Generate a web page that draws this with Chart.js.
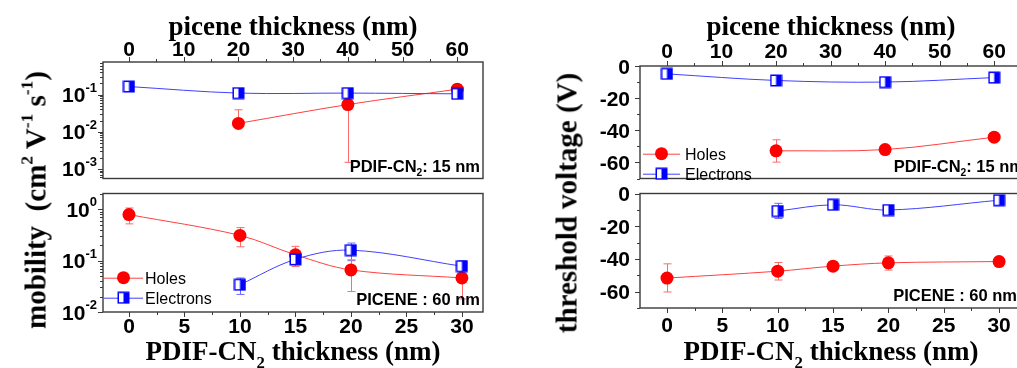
<!DOCTYPE html>
<html>
<head>
<meta charset="utf-8">
<script src="https://cdn.jsdelivr.net/npm/chart.js@4.4.1/dist/chart.umd.min.js"></script>
<style>
  html, body { margin: 0; padding: 0; overflow: hidden; background: #fff; width: 1017px; height: 368px; }
  canvas { position: absolute; }
  .ytitle {
    position: absolute;
    font: bold 29px "Liberation Serif", "Times New Roman", serif;
    color: #000;
    white-space: nowrap;
    transform: translate(-50%, -50%) rotate(-90deg);
  }
  .ytitle sup { font-size: 0.6em; vertical-align: 0.75em; line-height: 0; }
</style>
</head>
<body>

<canvas id="mobTop" width="500" height="186" style="left:0;top:0"></canvas>
<canvas id="mobBot" width="500" height="182" style="left:0;top:186px"></canvas>
<canvas id="vthTop" width="530" height="186" style="left:510px;top:0"></canvas>
<canvas id="vthBot" width="530" height="182" style="left:510px;top:186px"></canvas>

<div class="ytitle" style="left:36px;top:200px">mobility&nbsp; (cm<sup>2</sup> V<sup>-1</sup> s<sup>-1</sup>)</div>
<div class="ytitle" style="left:567px;top:203px">threshold voltage (V)</div>

<script>
// =========================================
// DATA
// =========================================

const piceneThickness = [0, 20, 40, 60];
const pdifThickness = [0, 10, 15, 20, 30];

// mobility (cm2/Vs), PDIF-CN2 15 nm, picene varied
const mobTopElectrons = [0.165, 0.11, 0.11, 0.105];
const mobTopHoles = [null, 0.0168, 0.054, 0.14];
const mobTopHolesLow = [null, 0.0168, 0.0015, 0.09];
const mobTopHolesHigh = [null, 0.039, 0.106, 0.18];

// mobility (cm2/Vs), picene 60 nm, PDIF-CN2 varied
const mobBotHoles = [0.79, 0.31, 0.13, 0.066, 0.046];
const mobBotHolesLow = [0.52, 0.186, 0.077, 0.025, 0.018];
const mobBotHolesHigh = [1.06, 0.44, 0.19, 0.104, 0.07];
const mobBotElectrons = [null, 0.034, 0.106, 0.16, 0.078];
const mobBotElectronsLow = [null, 0.022, 0.085, 0.1, 0.065];
const mobBotElectronsHigh = [null, 0.046, 0.125, 0.22, 0.1];

// threshold voltage (V), PDIF-CN2 15 nm, picene varied
const vthTopElectrons = [-4.9, -9, -10, -7.2];
const vthTopHoles = [null, -52.8, -52, -44.3];
const vthTopHolesLow = [null, -59.8, -54, -45.5];
const vthTopHolesHigh = [null, -45.9, -50, -43];

// threshold voltage (V), picene 60 nm, PDIF-CN2 varied
const vthBotElectrons = [null, -10.7, -6.9, -10.1, -4.1];
const vthBotElectronsLow = [null, -15.3, -8, -11.5, -5];
const vthBotElectronsHigh = [null, -6, -5.8, -8.7, -3.2];
const vthBotHoles = [-51.7, -47.5, -44.4, -42.4, -41.6];
const vthBotHolesLow = [-60.2, -52.9, -45.5, -46.8, -42.8];
const vthBotHolesHigh = [-43, -42.2, -43.3, -38.2, -40.4];

// tick labels
const piceneTicks = [0, 10, 20, 30, 40, 50, 60];
const pdifTicks = [0, 5, 10, 15, 20, 25, 30];
const vthTicks = [0, -20, -40, -60];
const mobTopDecades = [-3, -2, -1];
const mobBotDecades = [-2, -1, 0];


// =========================================
// HELPERS
// =========================================

const BOX = "#3a3a3a";
const SANS = '"Liberation Sans", Arial, sans-serif';
const SERIF = '"Liberation Serif", "Times New Roman", serif';

// half filled square used for electrons
const squareImg = document.createElement("canvas");
squareImg.width = 13;
squareImg.height = 13;
(function () {
  const g = squareImg.getContext("2d");
  g.fillStyle = "#fff";
  g.fillRect(1, 1, 11, 11);
  g.fillStyle = "#0000ff";
  g.fillRect(6.5, 1, 5.5, 11);
  g.strokeStyle = "#0000ff";
  g.lineWidth = 1.5;
  g.strokeRect(1.25, 1.25, 10.5, 10.5);
})();

function points(xs, ys, lo, hi) {
  return xs
    .map((x, i) => ({ x: x, y: ys[i], lo: lo ? lo[i] : null, hi: hi ? hi[i] : null }))
    .filter(p => p.y !== null);
}

function holes(xs, ys, lo, hi) {
  return {
    label: "Holes",
    data: points(xs, ys, lo, hi),
    borderColor: "#ff4040",
    borderWidth: 1,
    pointStyle: "circle",
    pointRadius: 6.5,
    pointBackgroundColor: "#ff0000",
    pointBorderColor: "#ff0000",
    pointBorderWidth: 0,
    tension: 0.35,
    errColor: "#ff6a6a"
  };
}

function electrons(xs, ys, lo, hi) {
  return {
    label: "Electrons",
    data: points(xs, ys, lo, hi),
    borderColor: "#4040ff",
    borderWidth: 1,
    pointStyle: squareImg,
    pointRadius: 6.5,
    tension: 0.35,
    errColor: "#6a6aff"
  };
}

function noPad(s) {
  s.paddingLeft = 0; s.paddingRight = 0; s.paddingTop = 0; s.paddingBottom = 0;
}

function xScale(pos, min, max, h) {
  return {
    type: "linear", position: pos, min: min, max: max,
    grid: { display: false, drawTicks: false },
    border: { display: false },
    ticks: { display: false },
    afterFit(s) { s.height = h; noPad(s); }
  };
}

function yScale(type, min, max, w) {
  return {
    type: type, position: "left", min: min, max: max,
    grid: { display: false, drawTicks: false },
    border: { display: false },
    ticks: { display: false },
    afterFit(s) { s.width = w; noPad(s); }
  };
}

function richText(ctx, parts, x, y, align, size, family, weight, supRaise) {
  const segs = parts.map(p => {
    const fs = p[1] ? size * 0.62 : size;
    ctx.font = weight + " " + fs + "px " + family;
    let dy = 0;
    if (p[1] === "sub") dy = size * 0.3;
    if (p[1] === "sup") dy = -size * (supRaise || 0.4);
    return { t: p[0], fs: fs, dy: dy, w: ctx.measureText(p[0]).width };
  });
  const total = segs.reduce((a, s) => a + s.w, 0);
  let cx = align === "right" ? x - total : align === "center" ? x - total / 2 : x;
  ctx.textAlign = "left";
  ctx.textBaseline = "alphabetic";
  segs.forEach(s => {
    ctx.font = weight + " " + s.fs + "px " + family;
    ctx.fillText(s.t, cx, y + s.dy);
    cx += s.w;
  });
}

function linearMinors(major, step, min, max) {
  const out = [];
  const start = Math.ceil(min / step) * step;
  for (let v = start; v <= max + 1e-9; v += step) {
    if (!major.some(m => Math.abs(m - v) < 1e-9)) out.push(v);
  }
  return out;
}

function logMinors(min, max) {
  const out = [];
  for (let n = Math.floor(Math.log10(min)); n <= Math.ceil(Math.log10(max)); n++) {
    for (let k = 2; k <= 9; k++) {
      const v = k * Math.pow(10, n);
      if (v >= min && v <= max) out.push(v);
    }
  }
  return out;
}

function panelPlugin(cfg) {
  return {
    id: "panel",

    beforeDatasetsDraw(chart) {
      const ctx = chart.ctx, xs = chart.scales.x, ys = chart.scales.y, a = chart.chartArea;
      ctx.save();
      ctx.beginPath();
      ctx.rect(a.left, a.top, a.right - a.left, a.bottom - a.top);
      ctx.clip();
      ctx.lineWidth = 1;
      chart.data.datasets.forEach(ds => {
        ctx.strokeStyle = ds.errColor;
        ds.data.forEach(p => {
          if (p.lo == null || p.hi == null) return;
          const px = Math.round(xs.getPixelForValue(p.x)) + 0.5;
          const y1 = ys.getPixelForValue(p.lo);
          const y2 = ys.getPixelForValue(p.hi);
          ctx.beginPath();
          ctx.moveTo(px, y1); ctx.lineTo(px, y2);
          ctx.moveTo(px - 4, y1); ctx.lineTo(px + 4, y1);
          ctx.moveTo(px - 4, y2); ctx.lineTo(px + 4, y2);
          ctx.stroke();
        });
      });
      ctx.restore();
    },

    afterDraw(chart) {
      const ctx = chart.ctx, xs = chart.scales.x, ys = chart.scales.y, a = chart.chartArea;
      ctx.save();

      // frame
      ctx.strokeStyle = BOX;
      ctx.lineWidth = 1.4;
      ctx.strokeRect(a.left, a.top, a.right - a.left, a.bottom - a.top);

      // x ticks
      ctx.lineWidth = 1;
      const dir = cfg.xSide === "top" ? -1 : 1;
      const edge = cfg.xSide === "top" ? a.top : a.bottom;
      const tickX = (v, len) => {
        const px = Math.round(xs.getPixelForValue(v)) + 0.5;
        ctx.beginPath(); ctx.moveTo(px, edge); ctx.lineTo(px, edge + dir * len); ctx.stroke();
      };
      cfg.xMajor.forEach(v => tickX(v, 5));
      linearMinors(cfg.xMajor, cfg.xMinorStep, xs.min, xs.max).forEach(v => tickX(v, 3));

      // y ticks
      const tickY = (v, len) => {
        const py = Math.round(ys.getPixelForValue(v)) + 0.5;
        ctx.beginPath(); ctx.moveTo(a.left, py); ctx.lineTo(a.left - len, py); ctx.stroke();
      };
      if (cfg.yLog) {
        cfg.yMajor.forEach(n => tickY(Math.pow(10, n), 5));
        logMinors(ys.min, ys.max).forEach(v => tickY(v, 3));
      } else {
        cfg.yMajor.forEach(v => tickY(v, 5));
        linearMinors(cfg.yMajor, cfg.yMinorStep, ys.min, ys.max).forEach(v => tickY(v, 3));
      }

      // tick labels
      ctx.fillStyle = "#000";
      ctx.font = "bold 21px " + SANS;
      ctx.textAlign = "center";
      ctx.textBaseline = "alphabetic";
      cfg.xMajor.forEach(v => ctx.fillText(String(v), xs.getPixelForValue(v), cfg.xLabelBase));
      if (cfg.yLog) {
        cfg.yMajor.forEach(n => {
          const py = ys.getPixelForValue(Math.pow(10, n));
          richText(ctx, [["10"], [String(n), "sup"]], cfg.yLabelRight, py + 7.5, "right", 21, SANS, "bold", 0.5);
        });
      } else {
        ctx.textAlign = "right";
        cfg.yMajor.forEach(v => ctx.fillText(String(v), cfg.yLabelRight, ys.getPixelForValue(v) + 7.5));
      }

      // axis title
      richText(ctx, cfg.title, (a.left + a.right) / 2, cfg.titleBase, "center", 27, SERIF, "bold");

      // note
      richText(ctx, cfg.note, cfg.noteRight, a.bottom - 7, "right", 16.5, SANS, "bold");

      // legend
      if (cfg.legend) {
        const L = cfg.legend;
        const rows = [chart.data.datasets[1], chart.data.datasets[0]];
        rows.forEach((ds, i) => {
          const y = L.y + i * L.gap;
          ctx.strokeStyle = ds.borderColor;
          ctx.lineWidth = 1;
          ctx.beginPath(); ctx.moveTo(L.x0, y + 0.5); ctx.lineTo(L.x1, y + 0.5); ctx.stroke();
          const xm = (L.x0 + L.x1) / 2;
          if (ds.pointStyle === "circle") {
            ctx.fillStyle = ds.pointBackgroundColor;
            ctx.beginPath(); ctx.arc(xm, y, 6.5, 0, Math.PI * 2); ctx.fill();
          } else {
            ctx.drawImage(squareImg, xm - 6.5, y - 6.5);
          }
          ctx.fillStyle = "#000";
          ctx.font = "16px " + SANS;
          ctx.textAlign = "left";
          ctx.fillText(ds.label, L.tx, y + 5.8);
        });
      }

      ctx.restore();
    }
  };
}

function makePanel(id, datasets, xs, ys, pad, cfg) {
  return new Chart(document.getElementById(id), {
    type: "line",
    data: { datasets: datasets },
    options: {
      responsive: false,
      animation: false,
      events: [],
      layout: { padding: pad },
      plugins: { legend: { display: false }, tooltip: { enabled: false } },
      scales: { x: xs, y: ys }
    },
    plugins: [panelPlugin(cfg)]
  });
}


// =========================================
// MOBILITY, PDIF-CN2 15 nm
// =========================================

makePanel("mobTop",
  [
    electrons(piceneThickness, mobTopElectrons),
    holes(piceneThickness, mobTopHoles, mobTopHolesLow, mobTopHolesHigh)
  ],
  xScale("top", -4.75, 64.7, 62),
  yScale("logarithmic", 0.00055, 0.757, 103),
  { left: 0, top: 0, right: 17, bottom: 3 },
  {
    xSide: "top", xMajor: piceneTicks, xMinorStep: 5, xLabelBase: 56,
    yLog: true, yMajor: mobTopDecades, yLabelRight: 97,
    title: [["picene thickness (nm)"]], titleBase: 34.5,
    note: [["PDIF-CN"], ["2", "sub"], [": 15 nm"]], noteRight: 480,
    legend: null
  });


// =========================================
// MOBILITY, PICENE 60 nm
// =========================================

makePanel("mobBot",
  [
    electrons(pdifThickness, mobBotElectrons, mobBotElectronsLow, mobBotElectronsHigh),
    holes(pdifThickness, mobBotHoles, mobBotHolesLow, mobBotHolesHigh)
  ],
  xScale("bottom", -2.34, 31.9, 56),
  yScale("logarithmic", 0.01, 2.03, 103),
  { left: 0, top: 6, right: 17, bottom: 0 },
  {
    xSide: "bottom", xMajor: pdifTicks, xMinorStep: 2.5, xLabelBase: 147,
    yLog: true, yMajor: mobBotDecades, yLabelRight: 97,
    title: [["PDIF-CN"], ["2", "sub"], [" thickness (nm)"]], titleBase: 174,
    note: [["PICENE : 60 nm"]], noteRight: 480,
    legend: { x0: 104, x1: 143, tx: 145, y: 91.7, gap: 20 }
  });


// =========================================
// THRESHOLD VOLTAGE, PDIF-CN2 15 nm
// =========================================

makePanel("vthTop",
  [
    electrons(piceneThickness, vthTopElectrons),
    holes(piceneThickness, vthTopHoles, vthTopHolesLow, vthTopHolesHigh)
  ],
  xScale("top", -4.95, 65.1, 66),
  yScale("linear", -70, 0, 130),
  { left: 0, top: 0, right: 18, bottom: 2 },
  {
    xSide: "top", xMajor: piceneTicks, xMinorStep: 5, xLabelBase: 58,
    yLog: false, yMajor: vthTicks, yMinorStep: 10, yLabelRight: 120,
    title: [["picene thickness (nm)"]], titleBase: 34.5,
    note: [["PDIF-CN"], ["2", "sub"], [": 15 nm"]], noteRight: 514,
    legend: { x0: 133, x1: 170, tx: 175, y: 153.7, gap: 20 }
  });


// =========================================
// THRESHOLD VOLTAGE, PICENE 60 nm
// =========================================

makePanel("vthBot",
  [
    electrons(pdifThickness, vthBotElectrons, vthBotElectronsLow, vthBotElectronsHigh),
    holes(pdifThickness, vthBotHoles, vthBotHolesLow, vthBotHolesHigh)
  ],
  xScale("bottom", -2.44, 32.07, 60),
  yScale("linear", -70, 0, 130),
  { left: 0, top: 6, right: 18, bottom: 0 },
  {
    xSide: "bottom", xMajor: pdifTicks, xMinorStep: 2.5, xLabelBase: 146,
    yLog: false, yMajor: vthTicks, yMinorStep: 10, yLabelRight: 120,
    title: [["PDIF-CN"], ["2", "sub"], [" thickness (nm)"]], titleBase: 174,
    note: [["PICENE : 60 nm"]], noteRight: 507,
    legend: null
  });
</script>
</body>
</html>
